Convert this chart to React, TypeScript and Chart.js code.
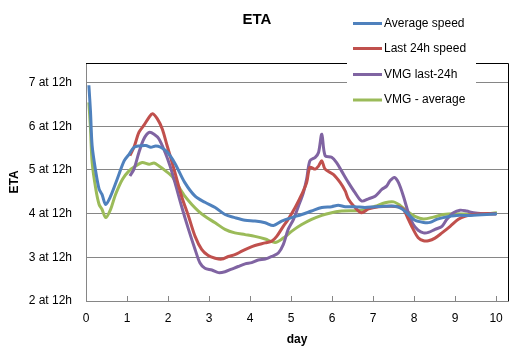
import React, { useEffect, useRef } from "react";
import { Chart, registerables } from "chart.js";

Chart.register(...registerables);

const TITLE = "ETA";
const X_TITLE = "day";
const Y_TITLE = "ETA";
const SERIES_NAMES = ["Average speed", "Last 24h speed", "VMG last-24h", "VMG - average"];
const SERIES_COLORS = ["#4F81BD", "#C0504D", "#8064A2", "#9BBB59"];
const Y_TICKS = [2, 3, 4, 5, 6, 7];
const X_TICKS = [0, 1, 2, 3, 4, 5, 6, 7, 8, 9, 10];

const avgDays = [0.07, 0.11, 0.15, 0.24, 0.32, 0.39, 0.48, 0.6, 0.76, 0.93, 1.05, 1.17, 1.29, 1.46, 1.58, 1.7, 1.82, 1.98, 2.17, 2.41, 2.66, 2.9, 3.15, 3.39, 3.63, 3.88, 4.12, 4.37, 4.57, 4.77, 5.02, 5.26, 5.5, 5.75, 5.99, 6.15, 6.32, 6.56, 6.8, 7.05, 7.29, 7.54, 7.7, 7.86, 8.02, 8.23, 8.39, 8.55, 8.71, 8.88, 9.04, 9.37, 9.77, 10.02];
const avgEta = [6.94, 6.33, 5.55, 4.95, 4.56, 4.44, 4.21, 4.4, 4.79, 5.21, 5.36, 5.52, 5.55, 5.56, 5.52, 5.55, 5.52, 5.41, 5.15, 4.71, 4.4, 4.26, 4.14, 3.98, 3.91, 3.85, 3.83, 3.79, 3.73, 3.83, 3.91, 3.98, 4.06, 4.14, 4.16, 4.19, 4.16, 4.16, 4.14, 4.16, 4.17, 4.17, 4.11, 3.98, 3.85, 3.8, 3.8, 3.87, 3.91, 3.94, 3.96, 3.96, 3.98, 4.0];

const last24Days = [1.07, 1.17, 1.29, 1.41, 1.54, 1.62, 1.74, 1.86, 1.98, 2.1, 2.17, 2.33, 2.5, 2.66, 2.82, 2.98, 3.15, 3.31, 3.47, 3.63, 3.8, 3.96, 4.12, 4.37, 4.53, 4.65, 4.81, 4.93, 5.1, 5.26, 5.38, 5.46, 5.59, 5.67, 5.75, 5.83, 6.03, 6.2, 6.32, 6.4, 6.56, 6.72, 6.89, 7.13, 7.37, 7.62, 7.74, 7.86, 7.98, 8.1, 8.23, 8.35, 8.51, 8.68, 8.88, 9.08, 9.24, 9.45, 9.69, 10.0];
const last24Eta = [5.33, 5.52, 5.86, 6.02, 6.21, 6.29, 6.17, 5.94, 5.55, 5.17, 4.94, 4.4, 3.94, 3.48, 3.18, 3.04, 2.98, 2.96, 3.02, 3.06, 3.14, 3.21, 3.27, 3.33, 3.37, 3.48, 3.71, 3.87, 4.14, 4.44, 4.71, 5.06, 5.02, 5.09, 5.21, 5.02, 4.9, 4.71, 4.52, 4.33, 4.14, 4.02, 4.11, 4.16, 4.17, 4.16, 4.1, 3.87, 3.64, 3.45, 3.38, 3.38, 3.44, 3.56, 3.71, 3.87, 3.94, 3.98, 4.0, 4.0];

const vmgLastDays = [1.07, 1.17, 1.29, 1.41, 1.54, 1.66, 1.78, 1.93, 2.05, 2.17, 2.33, 2.5, 2.66, 2.78, 2.9, 3.07, 3.23, 3.39, 3.55, 3.71, 3.88, 4.04, 4.2, 4.37, 4.53, 4.69, 4.81, 4.93, 5.06, 5.18, 5.3, 5.38, 5.46, 5.59, 5.67, 5.75, 5.83, 5.99, 6.11, 6.23, 6.4, 6.56, 6.72, 6.89, 7.05, 7.22, 7.33, 7.41, 7.52, 7.62, 7.74, 7.86, 7.98, 8.1, 8.23, 8.35, 8.51, 8.68, 8.8, 8.96, 9.12, 9.28, 9.45, 9.69, 10.0];
const vmgLastEta = [4.86, 5.02, 5.4, 5.71, 5.86, 5.82, 5.71, 5.4, 5.09, 4.71, 4.17, 3.64, 3.18, 2.87, 2.75, 2.71, 2.65, 2.67, 2.73, 2.79, 2.85, 2.88, 2.94, 2.96, 3.02, 3.1, 3.29, 3.64, 3.87, 4.17, 4.48, 4.79, 5.21, 5.29, 5.4, 5.82, 5.33, 5.29, 5.17, 4.98, 4.71, 4.48, 4.29, 4.34, 4.4, 4.56, 4.63, 4.75, 4.83, 4.71, 4.4, 4.02, 3.75, 3.62, 3.56, 3.57, 3.64, 3.71, 3.87, 4.02, 4.08, 4.06, 4.02, 4.0, 3.99];

const vmgAvgDays = [0.07, 0.11, 0.15, 0.24, 0.32, 0.39, 0.48, 0.6, 0.72, 0.89, 1.05, 1.21, 1.37, 1.54, 1.66, 1.78, 1.94, 2.09, 2.25, 2.41, 2.58, 2.74, 2.9, 3.15, 3.39, 3.63, 3.88, 4.12, 4.37, 4.61, 4.81, 5.02, 5.26, 5.5, 5.75, 5.99, 6.23, 6.72, 7.05, 7.29, 7.5, 7.66, 7.82, 8.02, 8.23, 8.47, 8.71, 8.96, 9.53, 10.02];
const vmgAvgEta = [6.55, 5.94, 5.17, 4.56, 4.21, 4.1, 3.91, 4.1, 4.44, 4.79, 4.98, 5.09, 5.17, 5.13, 5.16, 5.09, 4.98, 4.86, 4.63, 4.4, 4.21, 4.06, 3.94, 3.79, 3.64, 3.56, 3.52, 3.48, 3.42, 3.34, 3.44, 3.6, 3.75, 3.87, 3.96, 4.02, 4.06, 4.08, 4.17, 4.25, 4.27, 4.19, 4.06, 3.94, 3.88, 3.92, 3.98, 4.0, 3.98, 4.02];

const FONT = "'Liberation Sans', Arial, sans-serif";

function pts(xs: number[], ys: number[]) {
  return xs.map((x, i) => ({ x, y: ys[i] }));
}

const decorPlugin = {
  id: "decor",
  afterDraw(chart: any) {
    const ctx = chart.ctx;
    const ca = chart.chartArea;
    const xs = chart.scales.x;
    ctx.save();
    // inside tick marks on x axis
    ctx.strokeStyle = "#868686";
    ctx.lineWidth = 1;
    X_TICKS.forEach((t) => {
      const px = Math.round(xs.getPixelForValue(t)) + 0.5;
      ctx.beginPath();
      ctx.moveTo(px, ca.bottom);
      ctx.lineTo(px, ca.bottom - 5);
      ctx.stroke();
    });
    // plot border top/right
    ctx.strokeStyle = "#000";
    ctx.beginPath();
    ctx.moveTo(ca.left, Math.round(ca.top) + 0.5);
    ctx.lineTo(Math.round(ca.right) + 0.5, Math.round(ca.top) + 0.5);
    ctx.lineTo(Math.round(ca.right) + 0.5, ca.bottom);
    ctx.stroke();
    // title
    ctx.fillStyle = "#000";
    ctx.font = `bold 15px ${FONT}`;
    ctx.textAlign = "center";
    ctx.textBaseline = "middle";
    ctx.fillText(TITLE, 257, 20);
    // legend
    ctx.fillStyle = "#fff";
    ctx.fillRect(347, 8, 129, 104);
    const rows = [23.5, 48.5, 74.5, 100];
    ctx.font = `12px ${FONT}`;
    ctx.textAlign = "left";
    SERIES_NAMES.forEach((name, i) => {
      ctx.strokeStyle = SERIES_COLORS[i];
      ctx.lineWidth = 3;
      ctx.beginPath();
      ctx.moveTo(353, rows[i]);
      ctx.lineTo(382, rows[i]);
      ctx.stroke();
      ctx.fillStyle = "#000";
      ctx.fillText(name, 384, rows[i]);
    });
    ctx.restore();
  },
};

export default function App() {
  const ref = useRef<HTMLCanvasElement>(null);
  useEffect(() => {
    if (!ref.current) return;
    const sets = [
      pts(avgDays, avgEta),
      pts(last24Days, last24Eta),
      pts(vmgLastDays, vmgLastEta),
      pts(vmgAvgDays, vmgAvgEta),
    ];
    const chart = new Chart(ref.current, {
      type: "line",
      data: {
        datasets: sets.map((d, i) => ({
          label: SERIES_NAMES[i],
          data: d,
          borderColor: SERIES_COLORS[i],
          backgroundColor: SERIES_COLORS[i],
          borderWidth: 3,
          pointRadius: 0,
          tension: 0.3,
          fill: false,
        })),
      },
      options: {
        animation: false,
        responsive: false,
        layout: { padding: { left: 0, right: 10, top: 63, bottom: 0 } },
        plugins: { legend: { display: false }, title: { display: false }, tooltip: { enabled: false } },
        scales: {
          x: {
            type: "linear",
            min: 0,
            max: 10.29,
            afterFit: (s: any) => {
              s.height = 54;
            },
            ticks: {
              stepSize: 1,
              includeBounds: false,
              padding: 10,
              color: "#000",
              font: { family: FONT, size: 12 },
              maxRotation: 0,
            },
            grid: { display: false, drawTicks: false },
            border: { display: true, color: "#868686" },
            title: {
              display: true,
              text: X_TITLE,
              color: "#000",
              font: { family: FONT, size: 12, weight: "bold" },
              padding: { top: 0, bottom: 8 },
            },
          },
          y: {
            type: "linear",
            min: 2,
            max: 7.45,
            afterFit: (s: any) => {
              s.width = 86;
            },
            afterBuildTicks: (s: any) => {
              s.ticks = Y_TICKS.map((v) => ({ value: v }));
            },
            ticks: {
              padding: 14,
              color: "#000",
              font: { family: FONT, size: 12 },
              callback: (v: any) => `${v} at 12h`,
            },
            grid: { color: "#868686", drawTicks: false, lineWidth: 1 },
            border: { display: true, color: "#868686" },
            title: {
              display: true,
              text: Y_TITLE,
              color: "#000",
              font: { family: FONT, size: 12, weight: "bold" },
              padding: { top: 7, bottom: 0 },
            },
          },
        },
      },
      plugins: [decorPlugin],
    });
    return () => chart.destroy();
  }, []);
  return (
    <div style={{ position: "absolute", left: 0, top: 0, width: 518, height: 355, background: "#fff" }}>
      <canvas ref={ref} width={518} height={355} style={{ display: "block" }} />
    </div>
  );
}
